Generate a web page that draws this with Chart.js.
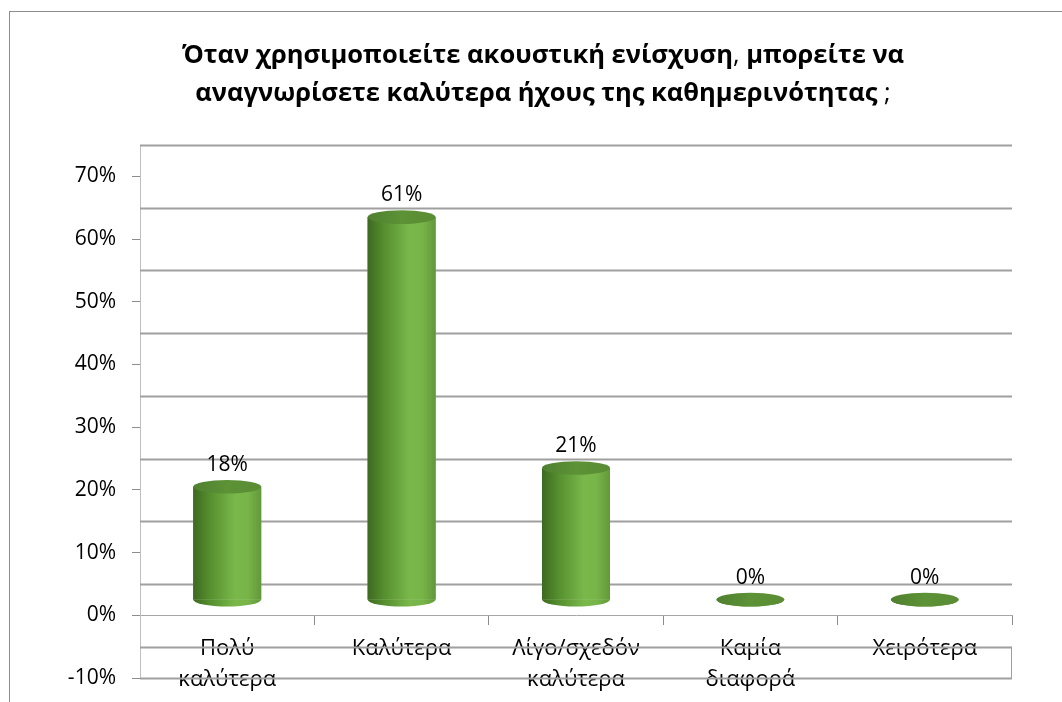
<!DOCTYPE html>
<html>
<head>
<meta charset="utf-8">
<script src="https://cdn.jsdelivr.net/npm/chart.js@4"></script>
<style>
  html, body { margin: 0; padding: 0; background: #fff; }
  #wrap { width: 1062px; height: 702px; position: relative; }
</style>
</head>
<body>
<div id="wrap"><canvas id="hearingChart"></canvas></div>
<script>
const categories = [["Πολύ", "καλύτερα"], "Καλύτερα", ["Λίγο/σχεδόν", "καλύτερα"], ["Καμία", "διαφορά"], "Χειρότερα"];
const shares = [18, 61, 21, 0, 0];
const yTicks = [-10, 0, 10, 20, 30, 40, 50, 60, 70];
const wallLines = [75, 65, 55, 45, 35, 25, 15, 5, -5, -10];
// title runs: [text, bold?]
const titleRuns = [
  [["Όταν χρησιμοποιείτε ακουστική ενίσχυση", true], [", ", false], ["μπορείτε να", true]],
  [["αναγνωρίσετε καλύτερα ήχους της καθημερινότητας", true], [" ;", false]]
];

const FONT = "'Open Sans', 'Noto Sans', sans-serif";
const BAR_PCT = 0.39;
const DEPTH = 2.5; // cylinders stand half way into the floor

function bodyGradient(ctx, cx, half) {
  const g = ctx.createLinearGradient(cx - half, 0, cx + half, 0);
  g.addColorStop(0, "#3d6920");
  g.addColorStop(0.25, "#56902f");
  g.addColorStop(0.62, "#7ab84b");
  g.addColorStop(0.8, "#78b549");
  g.addColorStop(1, "#62983a");
  return g;
}

/* white page, outer frame and the two-line title */
const frame = {
  id: "frame",
  beforeDraw(chart) {
    const ctx = chart.ctx;
    ctx.save();
    ctx.fillStyle = "#fff";
    ctx.fillRect(0, 0, chart.width, chart.height);
    ctx.strokeStyle = "#8c8c8c";
    ctx.lineWidth = 1;
    ctx.strokeRect(9.5, 11.5, chart.width + 20, chart.height + 20);

    ctx.fillStyle = "#000";
    ctx.textBaseline = "alphabetic";
    ctx.textAlign = "left";
    const fontOf = b => (b ? "bold " : "") + "25.5px " + FONT;
    const cx = chart.width / 2 + 12;
    titleRuns.forEach((runs, li) => {
      let total = 0;
      runs.forEach(([t, b]) => { ctx.font = fontOf(b); total += ctx.measureText(t).width; });
      let x = cx - total / 2;
      const y = 63 + li * 37.5;
      runs.forEach(([t, b]) => {
        ctx.font = fontOf(b);
        ctx.fillText(t, x, y);
        x += ctx.measureText(t).width;
      });
    });
    ctx.restore();
  }
};

/* back wall gridlines and floor edge */
const wall = {
  id: "wall",
  beforeDatasetsDraw(chart) {
    const { ctx, chartArea: a, scales: { y } } = chart;
    ctx.save();
    ctx.strokeStyle = "#9f9f9f";
    ctx.lineWidth = 1.8;
    wallLines.forEach(v => {
      const py = Math.round(y.getPixelForValue(v)) + 0.5;
      ctx.beginPath();
      ctx.moveTo(a.left, py);
      ctx.lineTo(a.right, py);
      ctx.stroke();
    });
    ctx.lineWidth = 1;
    ctx.beginPath();
    ctx.moveTo(a.right - 0.5, y.getPixelForValue(-5));
    ctx.lineTo(a.right - 0.5, y.getPixelForValue(-10));
    ctx.stroke();
    ctx.restore();
  }
};

/* cylinder bodies get a shaded fill, then rims, caps and value labels */
const cylinders = {
  id: "cylinders",
  afterDatasetsDraw(chart) {
    const ctx = chart.ctx;
    const meta = chart.getDatasetMeta(0);
    ctx.save();
    meta.data.forEach((bar, i) => {
      const { x, y, base, width } = bar.getProps(["x", "y", "base", "width"], true);
      const rx = width / 2, ry = width * 0.1;
      const body = bodyGradient(ctx, x, rx);
      ctx.fillStyle = body;
      ctx.fillRect(x - rx, Math.min(y, base), width, Math.abs(base - y));
      ctx.beginPath();
      ctx.ellipse(x, base, rx, ry, 0, 0, Math.PI);
      ctx.fill();
      const cap = ctx.createLinearGradient(x - rx, 0, x + rx, 0);
      cap.addColorStop(0, "#4f8030");
      cap.addColorStop(0.5, "#5d9236");
      cap.addColorStop(1, "#5a8c34");
      ctx.fillStyle = cap;
      ctx.beginPath();
      ctx.ellipse(x, y, rx, ry, 0, 0, Math.PI * 2);
      ctx.fill();
      ctx.fillStyle = "#000";
      ctx.font = "21px " + FONT;
      ctx.textAlign = "center";
      ctx.textBaseline = "middle";
      ctx.fillText(shares[i] + "%", x, y - 22);
    });
    ctx.restore();
  }
};

new Chart(document.getElementById("hearingChart"), {
  type: "bar",
  data: {
    labels: categories,
    datasets: [{
      data: shares,
      yAxisID: "yBar",
      borderWidth: 0,
      barPercentage: BAR_PCT,
      categoryPercentage: 1,
      backgroundColor: "#6aa13d"
    }]
  },
  options: {
    responsive: true,
    maintainAspectRatio: false,
    animation: false,
    layout: { padding: { left: 0, right: 50, top: 145, bottom: 24 } },
    plugins: {
      legend: { display: false },
      tooltip: { enabled: false },
      title: { display: false }
    },
    scales: {
      x: {
        position: { y: 0 },
        afterFit: s => { s.height = 0; s.paddingLeft = 0; s.paddingRight = 0; },
        grid: { offset: true, drawOnChartArea: false, tickLength: 9, color: "#8c8c8c" },
        border: { color: "#a6a6a6" },
        ticks: { color: "#000", padding: 8, font: { family: FONT, size: 22, lineHeight: 1.45 } }
      },
      y: {
        min: -10,
        max: 75,
        afterBuildTicks: s => { s.ticks = yTicks.map(v => ({ value: v })); },
        afterFit: s => { s.width = 140; s.paddingTop = 0; s.paddingBottom = 0; },
        grid: { drawOnChartArea: false, tickLength: 8, color: "#8c8c8c" },
        border: { color: "#bfbfbf" },
        ticks: { color: "#000", padding: 16, font: { family: FONT, size: 21 }, callback: v => v + "%" }
      },
      yBar: {
        display: false,
        min: -10 - DEPTH,
        max: 75 - DEPTH
      }
    }
  },
  plugins: [frame, wall, cylinders]
});
</script>
</body>
</html>
